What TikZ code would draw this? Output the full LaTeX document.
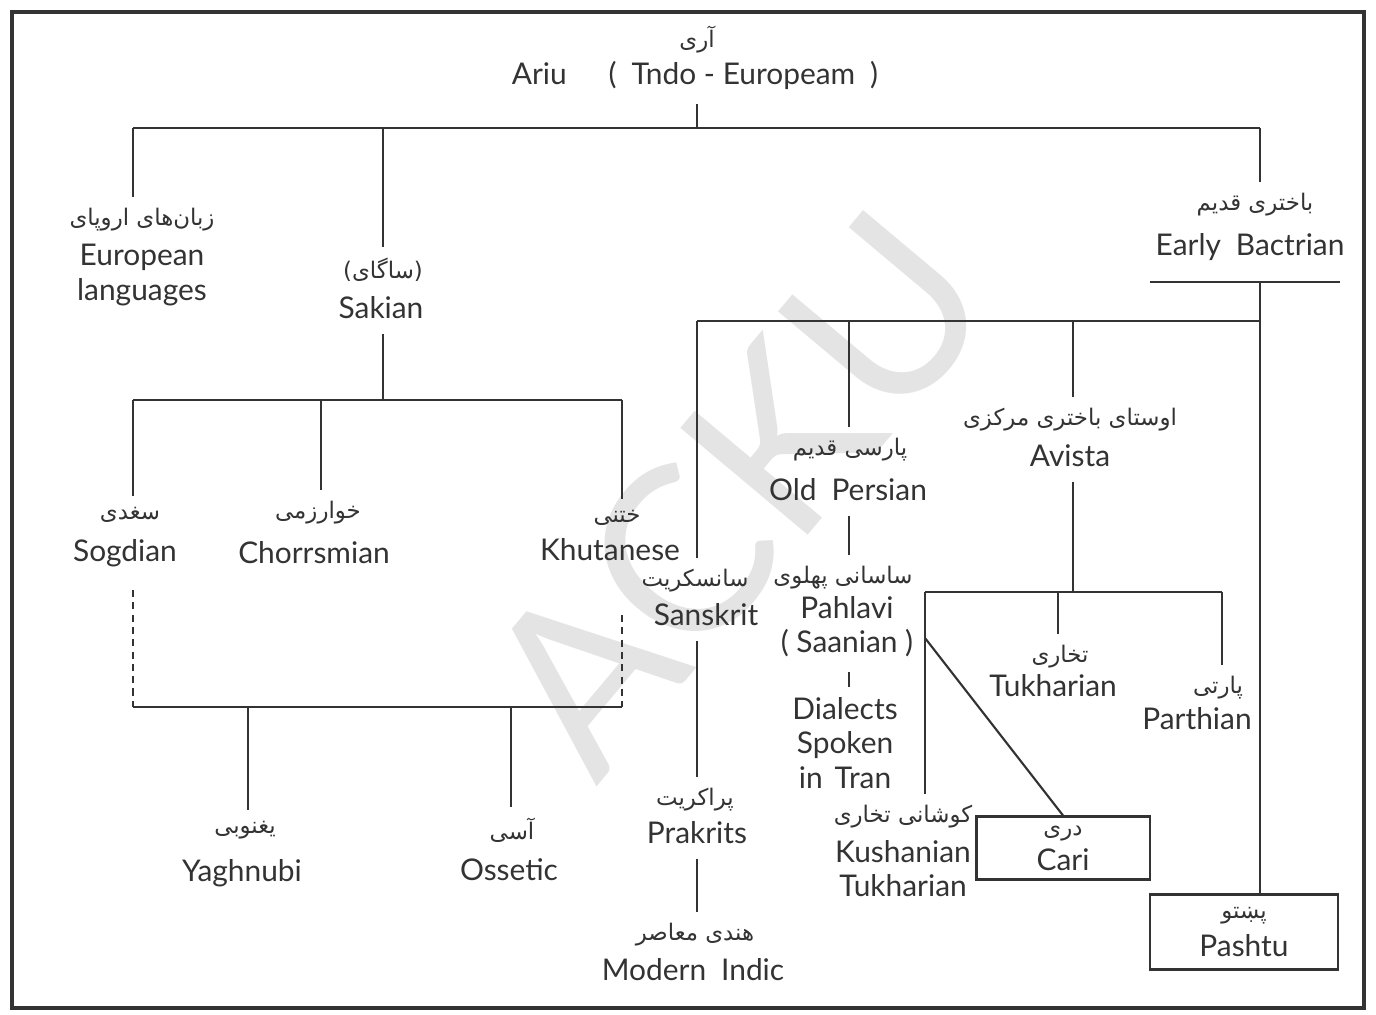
\documentclass[tikz,border=0pt]{standalone}
\usepackage{fontspec}
\setmainfont{Lato}
\newfontfamily\arabicfont[Script=Arabic]{DejaVu Sans}
\TeXXeTstate=1
\newcommand{\fa}[1]{{\arabicfont\beginR #1\endR}}
\definecolor{ink}{HTML}{333333}
\definecolor{mark}{HTML}{E4E4E4}

\begin{document}
\begin{tikzpicture}[x=0.01cm, y=-0.01cm,
  en/.style={font=\fontsize{8.5}{9.7}\selectfont, text=ink, align=center, inner sep=0pt},
  fa/.style={font=\fontsize{6.5}{7}\selectfont, text=ink, inner sep=0pt},
  line/.style={draw=ink, line width=0.6pt},
  dotline/.style={line, dash pattern=on 2pt off 1.5pt},
  langbox/.style={draw=ink, line width=0.6pt, align=center, inner sep=0pt, text=ink}]
\useasboundingbox (0,0) rectangle (1376,1014);
\node[text=mark, font=\fontsize{66}{66}\selectfont, rotate=50] (wm) at (736,492) {ACKU};
\draw[line, line width=1pt] (12,12) rectangle (1364,1008);

\node[fa] (root_fa) at (697,40) {\fa{آری}};
\node[en] (root) at (695,75) {Ariu\hspace{1.4em}(\hspace{0.5em}Tndo - Europeam\hspace{0.5em})};
\node[fa] (eur_fa) at (142,220) {\fa{زبان‌های اروپای}};
\node[en] (eur) at (142,275) {European\\languages};
\node[fa] (sak_fa) at (383,270) {\fa{(ساگای)}};
\node[en] (sak) at (381,308) {Sakian};
\node[fa] (bac_fa) at (1255,205) {\fa{باختری قدیم}};
\node[en] (bac) at (1250,247) {Early\hspace{0.5em}Bactrian};
\node[fa] (sog_fa) at (130,515) {\fa{سغدی}};
\node[en] (sog) at (125,553) {Sogdian};
\node[fa] (cho_fa) at (318,513) {\fa{خوارزمی}};
\node[en] (cho) at (314,553) {Chorrsmian};
\node[fa] (khu_fa) at (617,518) {\fa{ختنی}};
\node[en] (khu) at (610,550) {Khutanese};
\node[fa] (yag_fa) at (245,830) {\fa{یغنوبی}};
\node[en] (yag) at (242,873) {Yaghnubi};
\node[fa] (oss_fa) at (512,830) {\fa{آسی}};
\node[en] (oss) at (509,870) {Ossetic};
\node[fa] (san_fa) at (695,581) {\fa{سانسکریت}};
\node[en] (san) at (706,615) {Sanskrit};
\node[fa] (pra_fa) at (695,800) {\fa{پراکریت}};
\node[en] (pra) at (697,833) {Prakrits};
\node[fa] (ind_fa) at (695,935) {\fa{هندی معاصر}};
\node[en] (ind) at (693,970) {Modern\hspace{0.5em}Indic};
\node[fa] (old_fa) at (850,450) {\fa{پارسی قدیم}};
\node[en] (old) at (848,490) {Old\hspace{0.5em}Persian};
\node[fa] (pah_fa) at (843,578) {\fa{ساسانی پهلوی}};
\node[en] (pah) at (847,627) {Pahlavi\\( Saanian )};
\node[en] (dia) at (845,743) {Dialects\\Spoken\\in\hspace{0.4em}Tran};
\node[fa] (avi_fa) at (1070,420) {\fa{اوستای باختری مرکزی}};
\node[en] (avi) at (1070,456) {Avista};
\node[fa] (tuk_fa) at (1060,657) {\fa{تخاری}};
\node[en] (tuk) at (1053,686) {Tukharian};
\node[fa] (par_fa) at (1218,688) {\fa{پارتی}};
\node[en] (par) at (1197,719) {Parthian};
\node[fa] (kus_fa) at (903,817) {\fa{کوشانی تخاری}};
\node[en] (kus) at (903,869) {Kushanian\\Tukharian};
\node[langbox, minimum width=1.73cm, minimum height=0.63cm] (cari) at (1063,848)
  {{\fontsize{6.5}{7}\selectfont\fa{دری}}\\[-2pt]{\fontsize{8.5}{9.7}\selectfont Cari}};
\node[langbox, minimum width=1.88cm, minimum height=0.75cm] (pashtu) at (1244,932)
  {{\fontsize{6.5}{7}\selectfont\fa{پښتو}}\\[-1pt]{\fontsize{8.5}{9.7}\selectfont Pashtu}};

\coordinate (top) at (697,128);
\coordinate (t1) at (133,128);
\coordinate (t2) at (1260,128);
\coordinate (t3) at (383,128);
\draw[line] ([yshift=-4pt]top |- root.south) -- (top);
\draw[line] (t1) -- (t2);
\draw[line] (t1) -- ([yshift=3pt]t1 |- eur_fa.north);
\draw[line] (t3) -- ([yshift=3pt]t3 |- sak_fa.north);
\draw[line] (t2) -- ([yshift=3pt]t2 |- bac_fa.north);

\coordinate (b1) at (1260,282);
\draw[line] (1150,282) -- (1340,282);
\draw[line] (b1) -- (b1 |- pashtu.north);
\coordinate (e1) at (697,321);
\coordinate (e2) at (1260,321);
\coordinate (e3) at (849,321);
\coordinate (e4) at (1073,321);
\draw[line] (e1) -- (e2);

\coordinate (s0) at (383,400);
\coordinate (s1) at (133,400);
\coordinate (s2) at (622,400);
\coordinate (s3) at (321,400);
\draw[line] ([yshift=-4pt]s0 |- sak.south) -- (s0);
\draw[line] (s1) -- (s2);
\draw[line] (s1) -- ([yshift=3pt]s1 |- sog_fa.north);
\draw[line] (s3) -- ([yshift=3pt]s3 |- cho_fa.north);
\draw[line] (s2) -- ([yshift=3pt]s2 |- khu_fa.north);
\coordinate (d1) at (133,707);
\coordinate (d2) at (622,707);
\coordinate (d3) at (248,707);
\coordinate (d4) at (511,707);
\draw[dotline] (133,590) -- (d1);
\draw[dotline] (622,615) -- (d2);
\draw[line] (d1) -- (d2);
\draw[line] (d3) -- ([yshift=3pt]d3 |- yag_fa.north);
\draw[line] (d4) -- ([yshift=3pt]d4 |- oss_fa.north);

\draw[line] (e1) -- ([yshift=3pt]e1 |- san_fa.north);
\draw[line] ([yshift=-4pt]e1 |- san.south) -- ([yshift=3pt]e1 |- pra_fa.north);
\draw[line] ([yshift=-4pt]e1 |- pra.south) -- ([yshift=3pt]e1 |- ind_fa.north);
\draw[line] (e3) -- ([yshift=3pt]e3 |- old_fa.north);
\draw[line] ([yshift=-4pt]e3 |- old.south) -- ([yshift=3pt]e3 |- pah_fa.north);
\draw[line] ([yshift=-4pt]e3 |- pah.south) -- ([yshift=3pt]e3 |- dia.north);

\coordinate (a0) at (1073,592);
\coordinate (a1) at (925,592);
\coordinate (a2) at (1222,592);
\coordinate (a3) at (1058,592);
\coordinate (k0) at (925,638);
\draw[line] (e4) -- ([yshift=3pt]e4 |- avi_fa.north);
\draw[line] ([yshift=-4pt]e4 |- avi.south) -- (a0);
\draw[line] (a1) -- ([yshift=3pt]a1 |- kus_fa.north);
\draw[line] (a1) -- (a2);
\draw[line] (a3) -- ([yshift=3pt]a3 |- tuk_fa.north);
\draw[line] (a2) -- ([yshift=3pt]a2 |- par_fa.north);
\draw[line] (k0) -- (cari.north);
\end{tikzpicture}
\end{document}
